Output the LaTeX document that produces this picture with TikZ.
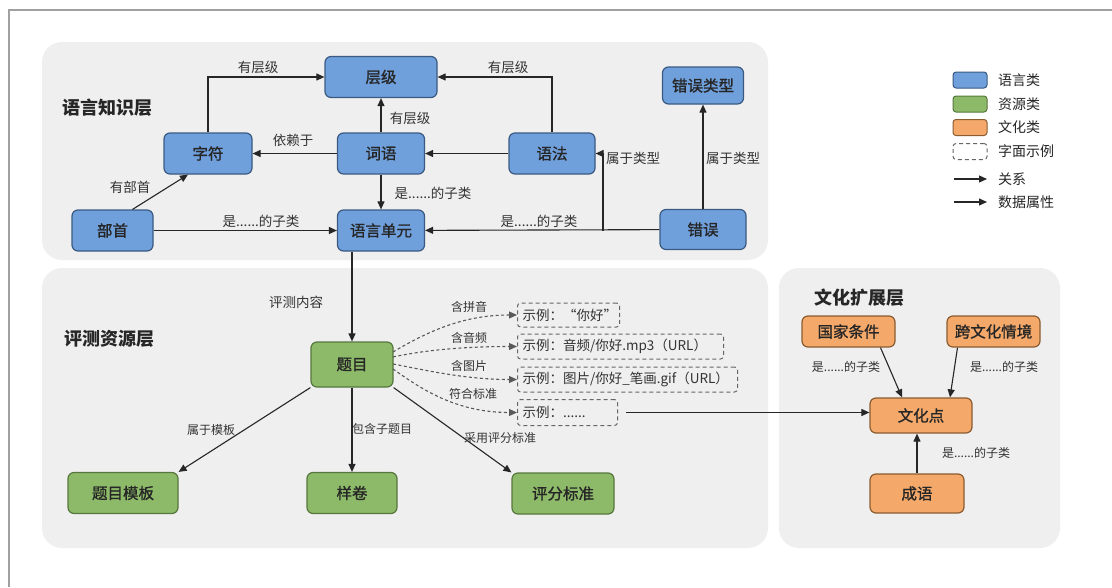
\documentclass[tikz,border=0pt]{standalone}
\usepackage{fontspec}
\setmainfont{Noto Sans CJK SC}
\newfontfamily\medf{Noto Sans CJK SC}[FakeBold=1.2]
\usetikzlibrary{arrows.meta}
\definecolor{panel}{HTML}{EFEFEF}
\definecolor{bluef}{HTML}{6FA0DC}
\definecolor{blued}{HTML}{3A5A82}
\definecolor{greenf}{HTML}{8DBA69}
\definecolor{greend}{HTML}{56773D}
\definecolor{orangef}{HTML}{F4A96A}
\definecolor{oranged}{HTML}{8A5C30}
\definecolor{frame}{HTML}{A0A0A0}
\begin{document}
\begin{tikzpicture}[x=1pt,y=-1pt,
  box/.style={draw, rounded corners=6pt, line width=1.2pt, inner sep=0pt, font=\medf\fontsize{15.5}{16}\selectfont, text=black!85},
  lang/.style={box, fill=bluef, draw=blued},
  res/.style={box, fill=greenf, draw=greend},
  cul/.style={box, fill=orangef, draw=oranged},
  ex/.style={draw=black!60, dash pattern=on 4pt off 3pt, line width=1pt, rounded corners=3pt, inner sep=0pt, font=\fontsize{13.5}{14}\selectfont, text=black!80},
  rel/.style={-{Triangle[length=8pt,width=7pt]}, line width=1.1pt, draw=black!85},
  drel/.style={rel, draw=black!65, dash pattern=on 3pt off 2.5pt},
  lbl/.style={font=\fontsize{13.5}{14}\selectfont, text=black!80, inner sep=1pt},
  lbls/.style={font=\fontsize{12}{13}\selectfont, text=black!80, inner sep=1pt},
  ttl/.style={font=\fontsize{18}{18}\selectfont\bfseries, text=black!85},
  leg/.style={font=\fontsize{14}{14}\selectfont, text=black!85, anchor=west, inner sep=0pt}
]
\useasboundingbox (0,0) rectangle (1112,587);
\fill[white] (0,0) rectangle (1112,587);
\draw[frame, line width=2pt] (9,587) -- (9,10) -- (1112,10);

% panels
\fill[panel, rounded corners=20pt] (42,42) rectangle (768,260);
\fill[panel, rounded corners=20pt] (42,268) rectangle (768,548);
\fill[panel, rounded corners=20pt] (779,268) rectangle (1060,548);

\node[ttl] (t1) at (107,108) {语言知识层};
\node[ttl] (t2) at (109,339) {评测资源层};
\node[ttl] (t3) at (859,298) {文化扩展层};

% language layer
\node[lang, minimum width=112pt, minimum height=41pt] (cengji) at (381,77) {层级};
\node[lang, minimum width=88pt, minimum height=41pt] (zifu) at (208,153.5) {字符};
\node[lang, minimum width=87pt, minimum height=41pt] (ciyu) at (381,153.5) {词语};
\node[lang, minimum width=86pt, minimum height=41pt] (yufa) at (552,153.5) {语法};
\node[lang, minimum width=81pt, minimum height=37pt] (cwlx) at (703,85.5) {错误类型};
\node[lang, minimum width=81pt, minimum height=41pt] (bushou) at (112.5,230.5) {部首};
\node[lang, minimum width=87pt, minimum height=41pt] (yydy) at (381,230.5) {语言单元};
\node[lang, minimum width=86pt, minimum height=40pt] (cuowu) at (703,229.5) {错误};

\draw[rel] (zifu.north) |- (cengji.west);
\draw[rel] (ciyu) -- (cengji);
\draw[rel] (yufa.north) |- (cengji.east);
\draw[rel] (ciyu) -- (zifu);
\draw[rel] (yufa) -- (ciyu);
\draw[rel] ([xshift=20pt]bushou.north) -- ([xshift=-20pt]zifu.south);
\draw[rel] (bushou) -- (yydy);
\draw[rel] (ciyu) -- (yydy);
\draw[rel] (cuowu) -- (yydy);
\coordinate (jct) at (603,230.5);
\draw[rel] (jct) -- (jct |- yufa.east) -- (yufa.east);
\draw[rel] (cuowu) -- (cwlx);

\node[lbl] (l1) at (258,67) {有层级};
\node[lbl] (l2) at (410,118) {有层级};
\node[lbl] (l3) at (508,67) {有层级};
\node[lbl] (l4) at (293,140) {依赖于};
\node[lbl] (l5) at (130,187) {有部首};
\node[lbl] (l6) at (261,221) {是......的子类};
\node[lbl] (l7) at (433,193) {是......的子类};
\node[lbl] (l8) at (539,221) {是......的子类};
\node[lbl] (l9) at (633,158) {属于类型};
\node[lbl] (l10) at (733,158) {属于类型};

% resource layer
\node[res, minimum width=82pt, minimum height=45pt] (timu) at (352,364.5) {题目};
\node[res, minimum width=110pt, minimum height=41pt] (muban) at (123,493) {题目模板};
\node[res, minimum width=90pt, minimum height=41pt] (yangjuan) at (352,493) {样卷};
\node[res, minimum width=102pt, minimum height=41pt] (pingfen) at (563,493.5) {评分标准};

\draw[rel] (yydy.south -| timu) -- (timu.north);
\draw[rel] (timu.south west) -- (muban.north east);
\draw[rel] (timu) -- (yangjuan);
\draw[rel] (timu.south east) -- (pingfen.north west);

\node[lbl] (l11) at (296,302) {评测内容};
\node[lbls] (l12) at (211,430) {属于模板};
\node[lbls] (l13) at (382,429) {包含子题目};
\node[lbls] (l14) at (500,438) {采用评分标准};

% example boxes
\node[ex, minimum width=102pt, minimum height=24pt, anchor=west, text width=92pt, align=left] (d1) at (517,315) {示例：“你好”};
\node[ex, minimum width=206pt, minimum height=25pt, anchor=west, text width=196pt, align=left] (d2) at (517,346.5) {示例：音频/你好.mp3（URL）};
\node[ex, minimum width=220pt, minimum height=25pt, anchor=west, text width=210pt, align=left] (d3) at (517,379.5) {示例：图片/你好\_笔画.gif（URL）};
\node[ex, minimum width=100pt, minimum height=26pt, anchor=west, text width=90pt, align=left] (d4) at (517,412.5) {示例：......};

\coordinate (s1) at (393,352);
\coordinate (s2) at (393,357);
\coordinate (s3) at (393,364);
\coordinate (s4) at (393,369);
\draw[drel] (s1) .. controls (430,330) and (465,315) .. (d1.west);
\draw[drel] (s2) .. controls (425,350) and (465,346.5) .. (d2.west);
\draw[drel] (s3) .. controls (425,370) and (465,379.5) .. (d3.west);
\draw[drel] (s4) .. controls (420,388) and (455,412.5) .. (d4.west);

\node[lbls] (l15) at (469,307) {含拼音};
\node[lbls] (l16) at (469,338) {含音频};
\node[lbls] (l17) at (469,366) {含图片};
\node[lbls] (l18) at (473,394) {符合标准};

% culture layer
\node[cul, minimum width=93pt, minimum height=31pt] (gjtj) at (848.5,331.5) {国家条件};
\node[cul, minimum width=93pt, minimum height=31pt] (kwh) at (993.5,331.5) {跨文化情境};
\node[cul, minimum width=102pt, minimum height=35pt] (whd) at (921,415.5) {文化点};
\node[cul, minimum width=94pt, minimum height=39pt] (cy) at (917,493.5) {成语};

\draw[rel] ([xshift=32pt]gjtj.south) -- ([xshift=-19pt]whd.north);
\draw[rel] ([xshift=-36pt]kwh.south) -- ([xshift=29pt]whd.north);
\draw[rel] (cy.north -| 917,0) -- (whd.south -| 917,0);
\draw[rel] ([xshift=8pt]d4.east) -- (d4.east -| whd.west);

\node[lbls] (l19) at (846,367) {是......的子类};
\node[lbls] (l20) at (1004,367) {是......的子类};
\node[lbls] (l21) at (976,453) {是......的子类};

% legend
\node[box, fill=bluef, draw=blued, minimum width=34pt, minimum height=16pt, rounded corners=3pt, line width=1pt] (lg1) at (970,80) {};
\node[box, fill=greenf, draw=greend, minimum width=34pt, minimum height=16pt, rounded corners=3pt, line width=1pt] (lg2) at (970,104) {};
\node[box, fill=orangef, draw=oranged, minimum width=34pt, minimum height=16pt, rounded corners=3pt, line width=1pt] (lg3) at (970,127.5) {};
\node[ex, minimum width=34pt, minimum height=16pt] (lg4) at (970,151.5) {};
\coordinate (la1) at (954,179);
\coordinate (lb1) at (987,179);
\coordinate (la2) at (954,202);
\coordinate (lb2) at (987,202);
\draw[rel] (la1) -- (lb1);
\draw[rel] (la2) -- (lb2);
\node[leg] (lt1) at (998,80) {语言类};
\node[leg] (lt2) at (998,104) {资源类};
\node[leg] (lt3) at (998,127.5) {文化类};
\node[leg] (lt4) at (998,151.5) {字面示例};
\node[leg] (lt5) at (998,179) {关系};
\node[leg] (lt6) at (998,202) {数据属性};
\end{tikzpicture}
\end{document}
